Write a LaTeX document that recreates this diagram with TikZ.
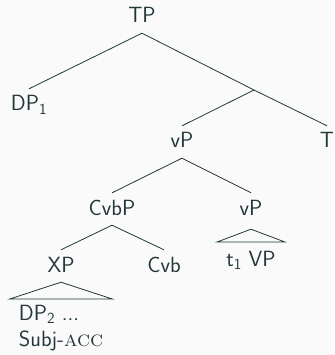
\documentclass[tikz,border=0pt]{standalone}
\usepackage{fontspec}
\definecolor{fg}{HTML}{23373B}
\definecolor{bg}{HTML}{FAFAFA}
\begin{document}
\begin{tikzpicture}[x=1pt,y=-1pt,
  every node/.style={font=\sffamily\fontsize{22}{26}\selectfont, text=fg},
  lbl/.style={anchor=base, text height=15pt, text depth=3pt, inner xsep=0pt, inner ysep=7pt},
  roof/.style={anchor=north, inner xsep=9pt, inner ysep=9pt},
  edge/.style={draw=fg, line width=0.8pt, line join=miter}]
\fill[bg] (0,0) rectangle (334,355);
\useasboundingbox (0,0) rectangle (334,355);
\node[lbl] (TP) at (142,23) {TP};
\node[lbl] (DP1) at (29,111) {DP\textsubscript{1}};
\coordinate (Tbar) at (254,90);
\node[lbl] (T) at (327,148) {T};
\node[lbl] (vP1) at (182,148) {vP};
\node[lbl] (CvbP) at (112,215) {CvbP};
\node[lbl] (vP2) at (251,215) {vP};
\node[lbl] (XP) at (61,272) {XP};
\node[lbl] (Cvb) at (164,272) {Cvb};
\node[roof, text height=15pt, text depth=3pt] (t1VP) at (251,242) {t\textsubscript{1} VP};
\node[roof, align=left, inner ysep=6pt] (DP2) at (61,299) {DP\textsubscript{2} ...\\Subj-{\rmfamily\textsc{acc}}};
\draw[edge] (TP.south) -- (DP1.north);
\draw[edge] (TP.south) -- (Tbar) -- (T.north);
\draw[edge] (Tbar) -- (vP1.north);
\draw[edge] (vP1.south) -- (CvbP.north);
\draw[edge] (vP1.south) -- (vP2.north);
\draw[edge] (CvbP.south) -- (XP.north);
\draw[edge] (CvbP.south) -- (Cvb.north);
\draw[edge] ([yshift=-4pt]vP2.south) -- (t1VP.north west) -- (t1VP.north east) -- cycle;
\draw[edge] (XP.south) -- (DP2.north west) -- (DP2.north east) -- cycle;
\end{tikzpicture}
\end{document}
